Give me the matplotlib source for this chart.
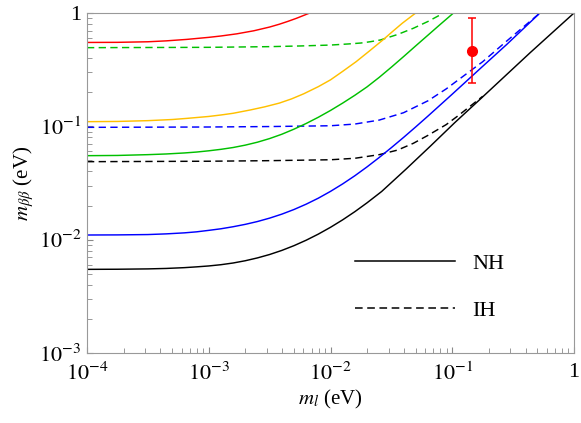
import matplotlib
matplotlib.use("Agg")
import matplotlib.pyplot as plt
import numpy as np
from matplotlib.lines import Line2D

plt.rcParams["font.family"] = "serif"
plt.rcParams["font.serif"] = ["Liberation Serif", "DejaVu Serif"]
plt.rcParams["mathtext.fontset"] = "stix"

# curves as (log10 m_l, log10 m_bb)
nh_black_x = [-4, -3.75, -3.5, -3.35, -3.2, -3.1, -3.0, -2.9, -2.8, -2.7, -2.6, -2.5, -2.4, -2.3, -2.2,
              -2.1, -2.0, -1.9, -1.8, -1.7, -1.58, -1.38, -1.18, -0.98, -0.77, -0.56, -0.36, -0.18, 0]
nh_black_y = [-2.262, -2.261, -2.258, -2.254, -2.247, -2.240, -2.232, -2.221, -2.206, -2.186, -2.161, -2.131,
              -2.095, -2.053, -2.005, -1.951, -1.891, -1.825, -1.753, -1.675, -1.575, -1.378, -1.175, -0.968,
              -0.76, -0.55, -0.35, -0.175, 0]
ih_black_x = [-4, -3, -2.5, -2.0, -1.8, -1.6, -1.45, -1.32, -1.2, -1.05, -0.95, -0.85, -0.75]
ih_black_y = [-1.312, -1.308, -1.303, -1.295, -1.282, -1.25, -1.21, -1.15, -1.08, -0.985, -0.905, -0.82, -0.735]

nh_blue_x = [-4, -3.75, -3.5, -3.35, -3.2, -3.1, -3.0, -2.9, -2.8, -2.7, -2.6, -2.5, -2.4, -2.3, -2.2, -2.1,
             -2.0, -1.9, -1.8, -1.7, -1.6, -1.5, -1.4, -1.3, -1.2, -1.0, -0.77, -0.55, -0.28]
nh_blue_y = [-1.959, -1.958, -1.955, -1.949, -1.94, -1.931, -1.918, -1.904, -1.886, -1.865, -1.84, -1.81,
             -1.775, -1.734, -1.687, -1.634, -1.574, -1.508, -1.436, -1.358, -1.275, -1.188, -1.098, -1.005,
             -0.91, -0.716, -0.49, -0.275, 0]
ih_blue_x = [-4, -3, -2.5, -2.0, -1.8, -1.6, -1.4, -1.2, -1.05, -0.9, -0.75, -0.55, -0.28]
ih_blue_y = [-1.009, -1.006, -1.002, -0.995, -0.98, -0.945, -0.88, -0.775, -0.67, -0.55, -0.43, -0.245, 0]

nh_green_x = [-4, -3.75, -3.5, -3.35, -3.2, -3.1, -3.0, -2.9, -2.8, -2.7, -2.6, -2.5, -2.4, -2.3, -2.2,
              -2.1, -2.0, -1.9, -1.8, -1.7, -1.6, -1.5, -1.4, -1.3, -1.2, -1.1, -0.99]
nh_green_y = [-1.259, -1.257, -1.25, -1.244, -1.235, -1.227, -1.216, -1.203, -1.187, -1.166, -1.14, -1.108,
              -1.07, -1.025, -0.975, -0.92, -0.86, -0.795, -0.726, -0.652, -0.568, -0.478, -0.385, -0.29,
              -0.196, -0.102, 0]
ih_green_x = [-4, -3, -2.5, -2.25, -2, -1.85, -1.75, -1.67, -1.59, -1.45, -1.32, -1.2, -1.07]
ih_green_y = [-0.306, -0.303, -0.297, -0.291, -0.283, -0.273, -0.265, -0.253, -0.238, -0.19, -0.135, -0.075, 0]

yellow_x = [-4, -3.75, -3.5, -3.3, -3.18, -3.0, -2.9, -2.8, -2.66, -2.54, -2.42, -2.32, -2.22, -2.1, -2.0,
            -1.9, -1.79, -1.68, -1.57, -1.49, -1.41, -1.30]
yellow_y = [-0.959, -0.957, -0.95, -0.94, -0.93, -0.913, -0.9, -0.885, -0.856, -0.828, -0.795, -0.758, -0.713,
            -0.65, -0.59, -0.515, -0.43, -0.335, -0.238, -0.163, -0.09, 0]

red_x = [-4, -3.75, -3.5, -3.35, -3.18, -3.0, -2.9, -2.77, -2.63, -2.5, -2.42, -2.35, -2.28, -2.17]
red_y = [-0.26, -0.259, -0.254, -0.246, -0.233, -0.215, -0.203, -0.184, -0.157, -0.124, -0.099, -0.074, -0.047, 0.0]

point_x = 0.146
point_y = 0.465
point_lo = 0.24
point_hi = 0.90

xticks = [1e-4, 1e-3, 1e-2, 1e-1, 1]
xticklabels = ["$10^{-4}$", "$10^{-3}$", "$10^{-2}$", "$10^{-1}$", "1"]
yticks = [1e-3, 1e-2, 1e-1, 1]
yticklabels = ["$10^{-3}$", "$10^{-2}$", "$10^{-1}$", "1"]

fig = plt.figure(figsize=(5.81, 4.23), dpi=100)
ax = fig.add_axes([0.1497, 0.1655, 0.8383, 0.8038])

dash = (0, (5, 3))
curves = [
    (nh_black_x, nh_black_y, "black", "-"),
    (ih_black_x, ih_black_y, "black", dash),
    (nh_blue_x, nh_blue_y, "#0000ff", "-"),
    (ih_blue_x, ih_blue_y, "#0000ff", dash),
    (nh_green_x, nh_green_y, "#00c000", "-"),
    (ih_green_x, ih_green_y, "#00c000", dash),
    (yellow_x, yellow_y, "#ffc000", "-"),
    (red_x, red_y, "#ff0000", "-"),
]
for xs, ys, c, ls in curves:
    ax.plot(10 ** np.array(xs), 10 ** np.array(ys), color=c, ls=ls, lw=1.05)

ax.errorbar([point_x], [point_y],
            yerr=[[point_y - point_lo], [point_hi - point_y]],
            fmt="o", color="#ff0000", ms=7, capsize=3, elinewidth=1.1, capthick=1.1)

ax.set_xscale("log")
ax.set_yscale("log")
ax.set_xlim(1e-4, 1)
ax.set_ylim(1e-3, 1)
ax.set_xticks(xticks)
ax.set_xticklabels(xticklabels)
ax.set_yticks(yticks)
ax.set_yticklabels(yticklabels)

for s in ax.spines.values():
    s.set_color("#999999")
ax.tick_params(which="both", direction="in", color="#888888", labelsize=16)
ax.tick_params(which="major", length=4.5, width=0.8, pad=4)
ax.tick_params(which="minor", length=3.5, width=0.6)
ax.tick_params(axis="x", pad=7)

ax.set_xlabel("$m_l$ (eV)", fontsize=15, labelpad=2)
ax.set_ylabel(r"$m_{\beta\beta}$ (eV)", fontsize=15, labelpad=2)

handles = [Line2D([], [], color="black", lw=1.1, ls="-"),
           Line2D([], [], color="black", lw=1.1, ls=dash)]
ax.legend(handles, ["NH", "IH"], loc="upper left", bbox_to_anchor=(0.55, 0.292),
          frameon=False, fontsize=16, handlelength=4.5, handletextpad=0.8,
          labelspacing=1.17, borderpad=0, borderaxespad=0)

fig.savefig("out.png", dpi=100)
